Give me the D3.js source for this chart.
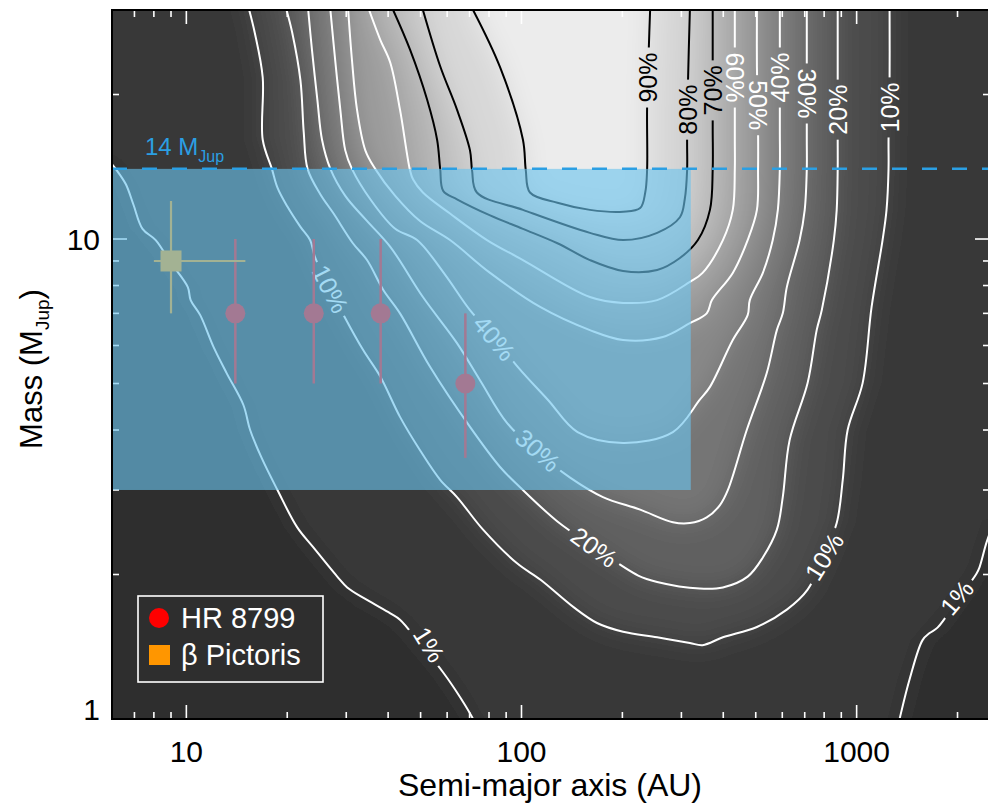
<!DOCTYPE html>
<html>
<head>
<meta charset="utf-8">
<script src="https://cdn.jsdelivr.net/npm/d3@7"></script>
<style>
  body { margin: 0; background: #fff; }
  svg { display: block; font-family: "Liberation Sans", Arial, Helvetica, sans-serif; }
</style>
</head>
<body>
<svg id="chart" width="988" height="804"></svg>
<script>
// ---- Detection-probability contours (semi-major axis in AU, mass in M_Jup) ----
const levels = [1, 10, 20, 30, 40, 50, 60, 70, 80, 90];

// The 1% contour is split in two: a western branch and an eastern branch
const contour1West = [[5.9,14.5],[6.2,13.9],[6.6,13.0],[6.95,11.8],[7.4,10.5],[8.1,9.95],[8.96,8.95],[10.1,7.94],[10.3,7.46],[11.0,6.94],[12.05,5.96],[13.2,5.25],[14.8,4.51],[15.5,4.0],[16.8,3.49],[18.7,3.0],[21.4,2.51],[23.9,2.28],[28.2,1.98],[30.2,1.88],[34.6,1.77],[40.6,1.66],[43.4,1.61],[50,1.43],[58.4,1.25],[65.6,1.11],[71.7,1.0],[74,0.95]];
const contour1East = [[1320,0.95],[1343,1.0],[1439,1.21],[1573,1.46],[1651,1.51],[1743,1.55],[2000,1.77],[2280,2.01],[2326,2.07],[2440,2.33],[2580,2.6]];
const contour10 = [[15.4,30],[16.0,26.9],[16.9,21.7],[16.9,16.1],[18.0,14.0],[18.7,12.8],[20.0,11.7],[21.9,10.6],[23.4,9.95],[24.2,9.17],[26.9,7.87],[29.8,6.84],[33.7,5.87],[37.9,5.17],[43.4,4.26],[49.8,3.63],[57.2,3.15],[64.2,2.9],[76.8,2.48],[97,2.11],[114,1.95],[143,1.71],[168,1.585],[201,1.52],[254,1.48],[318,1.44],[347,1.425],[399,1.48],[504,1.555],[619,1.69],[714,1.86],[792,2.17],[872,2.56],[909,3.15],[940,4.0],[1042,5.01],[1108,7.21],[1195,9.95],[1228,11.5],[1245,14.0],[1245,16.1],[1254,21.4],[1254,30]];
const contour20 = [[19.9,30],[20.7,26.9],[21.9,21.4],[22.4,16.7],[23.0,14.0],[25.1,12.4],[27.5,11.3],[31.4,9.8],[34.6,9.04],[38.7,7.83],[43.4,7.0],[53.4,5.41],[70.2,4.06],[86.3,3.35],[99,3.04],[128,2.58],[165,2.28],[223,1.99],[254,1.93],[340,1.87],[399,1.88],[473,1.98],[525,2.17],[578,2.48],[602,2.9],[631,3.81],[714,5.01],[760,6.46],[787,7.11],[855,9.95],[872,11.5],[878,14.0],[878,16.1],[878,21.4],[878,30]];
const contour30 = [[23.1,30],[23.7,24.8],[24.6,19.5],[25.4,16.1],[26.9,14.0],[29.8,12.3],[34.2,11.0],[40.6,9.63],[50.8,7.57],[64.2,6.07],[75.2,5.08],[90.5,4.14],[110,3.63],[140,3.18],[175,2.9],[226,2.73],[283,2.57],[318,2.56],[357,2.63],[391,2.79],[413,3.0],[470,4.0],[539,5.25],[578,6.46],[602,7.0],[619,7.94],[676,9.95],[700,11.5],[710,14.0],[710,16.1],[710,23.6],[710,30]];
const contour40 = [[26.9,30],[27.8,23.6],[28.8,18.6],[29.8,15.3],[31.2,14.0],[35.4,12.1],[42.0,10.5],[48.8,9.95],[59.2,8.42],[70.2,7.11],[83.4,6.22],[97.6,5.41],[120,4.62],[147,3.96],[201,3.76],[283,3.96],[340,4.62],[365,4.92],[427,6.16],[473,6.94],[480,7.46],[525,8.5],[562,9.95],[582,11.5],[590,14.0],[590,16.9],[590,25.4],[590,30]];
const contour50 = [[30.4,30],[31.2,23.6],[32.3,18.6],[34.2,15.3],[36.6,14.0],[42.0,12.3],[49.8,10.9],[61.2,9.95],[80.6,8.5],[114,7.21],[160,6.46],[201,6.16],[264,6.25],[318,6.68],[357,7.0],[370,7.46],[427,8.5],[473,9.95],[504,11.5],[508,14.0],[508,16.9],[504,22.9],[504,30]];
const contour60 = [[35.1,30],[37.9,26.0],[40.6,23.3],[43.4,18.6],[46.5,13.9],[47.5,13.3],[50.8,12.5],[61.2,11.3],[78.9,9.95],[101,9.04],[160,7.57],[201,7.36],[254,7.46],[318,8.14],[347,8.5],[399,9.95],[427,11.5],[433,14.0],[433,16.1],[433,25.4],[433,30]];
const contour70 = [[41.4,30],[46.5,24.8],[52.3,19.5],[56.0,16.1],[57.2,14.0],[58.4,12.6],[64.2,12.1],[80.6,11.2],[101,10.5],[128,9.8],[160,9.04],[201,8.58],[254,8.62],[297,9.13],[336,9.95],[365,11.5],[372,14.0],[372,17.1],[372,23.4],[372,30]];
const contour80 = [[50.8,30],[57.2,22.9],[64.2,18.6],[70.2,15.3],[71.2,13.9],[73.6,12.5],[101,11.5],[160,10.3],[201,9.95],[254,10.3],[297,11.1],[307,12.1],[312,13.9],[312,16.1],[314,21.4],[318,30]];
const contour90 = [[71.7,30],[86.3,22.8],[101,16.1],[103,13.9],[106,12.5],[128,11.9],[160,11.5],[201,11.4],[226,11.6],[234,12.5],[237,13.9],[237,18.7],[240,25.4],[242,30]];

// Inline contour labels: level, anchor (AU, M_Jup), text rotation
const labelLevels = [1, 1, 10, 10, 10, 20, 20, 30, 30, 40, 40, 50, 60, 70, 80, 90];
const labelA      = [53, 1990, 26.9, 800, 1254, 165, 878, 112, 710, 83, 590, 508, 433, 372, 313, 238];
const labelM      = [1.43, 1.79, 7.87, 2.18, 18.8, 2.28, 18.6, 3.63, 20.1, 6.22, 21.7, 19.0, 21.7, 20.4, 18.6, 21.7];
const labelAngle  = [58, -50, 63, -58, -90, 36, -90, 42, 90, 50, -90, 90, 90, -90, -90, -90];

// Known planets
const hrNames = ["e", "d", "c", "b"];
const hrA   = [14, 24, 38, 68];
const hrM   = [7, 7, 7, 5];
const hrMLo = [5, 5, 5, 3.5];
const hrMHi = [10, 10, 10, 7];
const bpA = [9], bpALo = [8], bpAHi = [15];
const bpM = [9], bpMLo = [7], bpMHi = [12];

// Shaded search region and deuterium-burning limit
const regionA = [6, 320];
const regionM = [3, 14];
const deuteriumLimit = 14;

// Axis ticks
const xMajor = [10, 100, 1000];
const xMinor = [7, 8, 9, 20, 30, 40, 50, 60, 70, 80, 90, 200, 300, 400, 500, 600, 700, 800, 900, 2000];
const yMajor = [1, 10];
const yMinor = [2, 3, 4, 5, 6, 7, 8, 9, 20];

// ---- Layout ----
const W = 988, H = 804;
const L = 112, R = 990, T = 10, B = 719, E = 90;

const x = d3.scaleLog().domain([6, 2500]).range([L, R]);
const y = d3.scaleLog().domain([1, 30]).range([B, T]);

const grey = p => { const g = Math.round(46 + 200 * p); return d3.rgb(g, g, g).toString(); };

const contours = [
  { level: 1,  segments: [contour1West, contour1East] },
  { level: 10, segments: [contour10] },
  { level: 20, segments: [contour20] },
  { level: 30, segments: [contour30] },
  { level: 40, segments: [contour40] },
  { level: 50, segments: [contour50] },
  { level: 60, segments: [contour60] },
  { level: 70, segments: [contour70] },
  { level: 80, segments: [contour80] },
  { level: 90, segments: [contour90] }
];

const svg = d3.select("#chart");
const defs = svg.append("defs");

defs.append("clipPath").attr("id", "plotClip")
  .append("rect").attr("x", L).attr("y", T).attr("width", R - L).attr("height", B - T);

const soften = defs.append("filter").attr("id", "soften")
  .attr("x", "-20%").attr("y", "-20%").attr("width", "140%").attr("height", "140%");
soften.append("feGaussianBlur").attr("stdDeviation", 13);

const gapMask = defs.append("mask").attr("id", "labelGaps")
  .attr("maskUnits", "userSpaceOnUse").attr("x", 0).attr("y", 0).attr("width", W).attr("height", H);
gapMask.append("rect").attr("x", 0).attr("y", 0).attr("width", W).attr("height", H).attr("fill", "#fff");

const pix = pts => pts.map(d => [x(d[0]), y(d[1])]);

// Closed outline of the area above each contour level, extended past the frame
function regionOutline(c) {
  if (c.segments.length === 1) {
    const p = pix(c.segments[0]);
    const f = p[0], l = p[p.length - 1];
    return [[f[0], T - E], ...p, [l[0], T - E]];
  }
  const w = pix(c.segments[0]), e = pix(c.segments[1]);
  const wl = w[w.length - 1], el = e[e.length - 1];
  return [[L - E, T - E], [L - E, w[0][1]], ...w, [wl[0], B + E], [e[0][0], B + E], ...e, [R + E, el[1]], [R + E, T - E]];
}

const plot = svg.append("g").attr("clip-path", "url(#plotClip)");

// Smooth probability shading
const field = plot.append("g").attr("filter", "url(#soften)");
field.append("rect").attr("x", L - E).attr("y", T - E).attr("width", R - L + 2 * E).attr("height", B - T + 2 * E)
  .attr("fill", grey(0));
contours.forEach((c, i) => {
  const next = i + 1 < levels.length ? levels[i + 1] : 100;
  const mid = (c.level + next) / 200;
  field.append("path")
    .attr("d", "M" + regionOutline(c).map(p => p.join(",")).join("L") + "Z")
    .attr("fill", grey(mid));
});

// Contour lines
const lineGen = d3.line().x(d => x(d[0])).y(d => y(d[1])).curve(d3.curveCatmullRom.alpha(0.5));
const linesG = plot.append("g").attr("mask", "url(#labelGaps)");
contours.forEach(c => {
  c.segments.forEach(seg => {
    linesG.append("path")
      .attr("d", lineGen(seg))
      .attr("fill", "none")
      .attr("stroke", c.level >= 70 ? "#000" : "#fff")
      .attr("stroke-width", 2)
      .attr("stroke-linejoin", "round");
  });
});

// Contour labels, with gaps cut in the lines beneath them
const labelG = plot.append("g");
labelLevels.forEach((lv, i) => {
  const tf = `translate(${x(labelA[i])},${y(labelM[i])}) rotate(${labelAngle[i]})`;
  const t = labelG.append("text")
    .attr("transform", tf)
    .attr("text-anchor", "middle")
    .attr("dy", "0.36em")
    .attr("font-size", 25)
    .attr("fill", lv >= 70 ? "#000" : "#fff")
    .text(lv + "%");
  const w = t.node().getComputedTextLength();
  gapMask.append("rect").attr("transform", tf)
    .attr("x", -w / 2 - 5).attr("y", -11).attr("width", w + 10).attr("height", 22)
    .attr("fill", "#000");
});

// Tick marks on all four sides
const ticksG = plot.append("g").attr("stroke", "#fff").attr("stroke-width", 1.6);
const xt = xMajor.map(v => ({ v, len: 14 })).concat(xMinor.map(v => ({ v, len: 7 })));
xt.forEach(t => {
  ticksG.append("line").attr("x1", x(t.v)).attr("x2", x(t.v)).attr("y1", B).attr("y2", B - t.len);
  ticksG.append("line").attr("x1", x(t.v)).attr("x2", x(t.v)).attr("y1", T).attr("y2", T + t.len);
});
const yt = yMajor.map(v => ({ v, len: 15 })).concat(yMinor.map(v => ({ v, len: 7 })));
yt.forEach(t => {
  ticksG.append("line").attr("x1", L).attr("x2", L + t.len).attr("y1", y(t.v)).attr("y2", y(t.v));
  ticksG.append("line").attr("x1", R).attr("x2", R - t.len).attr("y1", y(t.v)).attr("y2", y(t.v));
});

// Planets: HR 8799 (red circles) and beta Pictoris b (orange square)
const hrColor = "#ff0000", bpColor = "#ff9600";
const ptsG = plot.append("g");
hrA.forEach((a, i) => {
  ptsG.append("line").attr("x1", x(a)).attr("x2", x(a)).attr("y1", y(hrMLo[i])).attr("y2", y(hrMHi[i]))
    .attr("stroke", hrColor).attr("stroke-width", 2.5);
  ptsG.append("circle").attr("cx", x(a)).attr("cy", y(hrM[i])).attr("r", 10).attr("fill", hrColor);
});
bpA.forEach((a, i) => {
  ptsG.append("line").attr("x1", x(bpALo[i])).attr("x2", x(bpAHi[i])).attr("y1", y(bpM[i])).attr("y2", y(bpM[i]))
    .attr("stroke", bpColor).attr("stroke-width", 2.2);
  ptsG.append("line").attr("x1", x(a)).attr("x2", x(a)).attr("y1", y(bpMLo[i])).attr("y2", y(bpMHi[i]))
    .attr("stroke", bpColor).attr("stroke-width", 2.2);
  ptsG.append("rect").attr("x", x(a) - 10.5).attr("y", y(bpM[i]) - 10.5).attr("width", 21).attr("height", 21)
    .attr("fill", bpColor);
});

// Translucent search region
plot.append("rect")
  .attr("x", x(regionA[0])).attr("y", y(regionM[1]))
  .attr("width", x(regionA[1]) - x(regionA[0])).attr("height", y(regionM[0]) - y(regionM[1]))
  .attr("fill", "rgb(107,195,237)").attr("fill-opacity", 0.62);

// Deuterium-burning limit
const limitColor = "#2b9fe3";
plot.append("line")
  .attr("x1", L).attr("x2", R).attr("y1", y(deuteriumLimit)).attr("y2", y(deuteriumLimit))
  .attr("stroke", limitColor).attr("stroke-width", 2.5).attr("stroke-dasharray", "15,15");
const limLabel = svg.append("text").attr("x", 145).attr("y", y(deuteriumLimit) - 14)
  .attr("font-size", 24).attr("fill", limitColor);
limLabel.append("tspan").text(deuteriumLimit + " M");
limLabel.append("tspan").attr("font-size", 16).attr("dy", 7).text("Jup");

// Legend
const leg = svg.append("g");
leg.append("rect").attr("x", 138).attr("y", 596).attr("width", 185).attr("height", 86)
  .attr("fill", "#2e2e2e").attr("stroke", "#fff").attr("stroke-width", 1.6);
leg.append("circle").attr("cx", 159).attr("cy", 618).attr("r", 10).attr("fill", hrColor);
leg.append("text").attr("x", 181).attr("y", 628).attr("font-size", 29).attr("fill", "#fff").text("HR 8799");
leg.append("rect").attr("x", 149).attr("y", 645).attr("width", 21).attr("height", 20).attr("fill", bpColor);
leg.append("text").attr("x", 181).attr("y", 665).attr("font-size", 29).attr("fill", "#fff").text("\u03b2 Pictoris");

// Frame
svg.append("rect").attr("x", L).attr("y", T).attr("width", R - L).attr("height", B - T)
  .attr("fill", "none").attr("stroke", "#000").attr("stroke-width", 2);

// Axis labels
xMajor.forEach(v => {
  svg.append("text").attr("x", x(v)).attr("y", 762).attr("text-anchor", "middle")
    .attr("font-size", 30).attr("fill", "#000").text(v);
});
yMajor.forEach(v => {
  svg.append("text").attr("x", 100).attr("y", v === 1 ? y(v) - 10 : y(v)).attr("dy", "0.36em")
    .attr("text-anchor", "end").attr("font-size", 30).attr("fill", "#000").text(v);
});
svg.append("text").attr("x", 550).attr("y", 796).attr("text-anchor", "middle")
  .attr("font-size", 32).attr("fill", "#000").text("Semi-major axis (AU)");
const yTitle = svg.append("text").attr("transform", "translate(42,369) rotate(-90)")
  .attr("text-anchor", "middle").attr("font-size", 31).attr("fill", "#000");
yTitle.append("tspan").text("Mass (M");
yTitle.append("tspan").attr("font-size", 19).attr("dy", 7).text("Jup");
yTitle.append("tspan").attr("dy", -7).text(")");
</script>
</body>
</html>
